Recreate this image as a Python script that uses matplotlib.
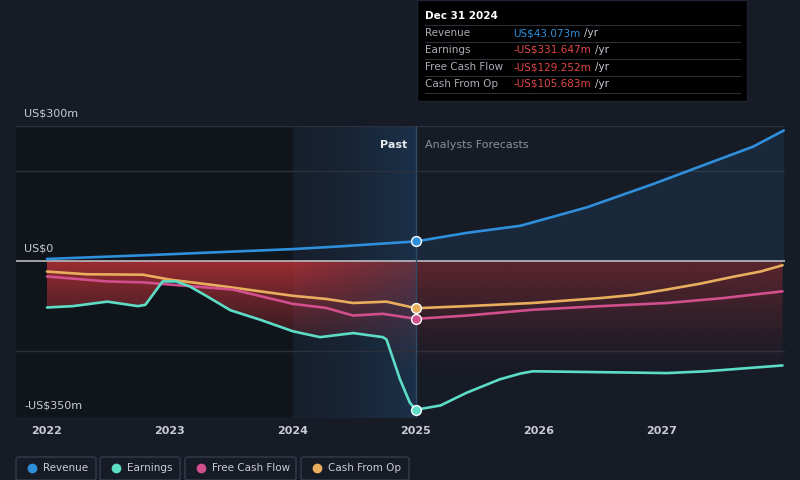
import numpy as np
import matplotlib
matplotlib.use('Agg')
import matplotlib.pyplot as plt
from matplotlib.patches import FancyBboxPatch, Rectangle

BG = '#161b26'
DARK = '#10141b'
GRID = '#2a303c'
TXT = '#c9ccd3'
C_REV = '#2f8fdb'
C_EARN = '#5ddcc6'
C_FCF = '#d04f8c'
C_CFO = '#e8ae5e'

# values in US$ millions, x in fractional years
rev_x = [2022.0, 2022.86, 2024.0, 2024.38, 2025.0, 2025.41, 2025.85, 2026.39, 2026.93,
         2027.31, 2027.74, 2027.99]
rev_y = [4, 13, 26, 32, 43.073, 62, 78, 119, 171,
         210, 254, 290]

earn_x = [2022.0, 2022.21, 2022.49, 2022.74, 2022.80, 2022.94, 2023.05, 2023.16, 2023.30, 2023.49,
          2023.73, 2024.0, 2024.22, 2024.49, 2024.73, 2024.76, 2024.87, 2024.95, 2025.0,
          2025.2, 2025.41, 2025.68, 2025.85, 2025.95, 2026.5, 2027.04, 2027.36, 2027.98]
earn_y = [-104, -101, -91, -101, -98, -46, -46, -57, -79, -110,
          -131, -157, -170, -161, -170, -175, -264, -316, -331.647,
          -322, -294, -264, -251, -246, -248, -250, -246, -233]

fcf_x = [2022.0, 2022.49, 2022.78, 2023.0, 2023.51, 2024.0, 2024.27, 2024.49, 2024.73, 2025.0,
         2025.41, 2025.95, 2026.5, 2027.04, 2027.5, 2027.98]
fcf_y = [-35, -46, -48, -53, -64, -96, -105, -122, -118, -129.252,
         -122, -109, -101, -94, -83, -68]

cfo_x = [2022.0, 2022.32, 2022.78, 2023.0, 2023.41, 2024.0, 2024.27, 2024.49, 2024.76, 2025.0,
         2025.41, 2025.95, 2026.5, 2026.77, 2027.04, 2027.31, 2027.59, 2027.8, 2027.98]
cfo_y = [-24, -30, -31, -42, -56, -78, -85, -94, -91, -105.683,
         -101, -94, -83, -76, -64, -51, -35, -24, -10]

years = [2022, 2023, 2024, 2025, 2026, 2027]
X0, X1 = 2021.748, 2028.0
Y0, Y1 = -350, 300
NOW = 2025.0

fig = plt.figure(figsize=(8, 4.8), dpi=100, facecolor=BG)
ax = fig.add_axes([16 / 800, 1 - 418 / 480, 769 / 800, 292 / 480])
ax.set_facecolor(BG)
ax.set_xlim(X0, X1)
ax.set_ylim(Y0, Y1)
ax.axis('off')

# past background darker, last year highlighted blue
ax.axvspan(X0, 2024.0, color=DARK, zorder=0, lw=0)
grad = np.linspace(0, 1, 200)[None, :] ** 1.5
img = np.zeros((1, 200, 4))
img[..., 0], img[..., 1], img[..., 2] = 0.12, 0.25, 0.38
img[..., 3] = 0.12 + 0.5 * grad
ax.imshow(img, extent=[2024.0, NOW, Y0, Y1], aspect='auto', zorder=0.5, interpolation='bilinear')

# grid lines
for g in [300, 200, -200, -350]:
    ax.axhline(g, color=GRID, lw=1, zorder=1)

# red gradient under the loss lines
ex = np.array(earn_x)
ey = np.array(earn_y)
poly = ax.fill_between(ex, 0, ey, color='none', lw=0)
nx, ny = 300, 200
gx = np.linspace(X0, X1, nx)
gy = np.linspace(0, Y0, ny)
red = np.zeros((ny, nx, 4))
red[..., 0], red[..., 1], red[..., 2] = 0.76, 0.2, 0.22
ay = np.clip(1 - (-gy / 260), 0, 1)[:, None] ** 1.3
axf = np.where(gx < 2024.0, 0.8, np.where(gx < NOW, 0.8 - 0.35 * (gx - 2024.0), 0.42))[None, :]
red[..., 3] = ay * axf
im = ax.imshow(red, extent=[X0, X1, Y0, 0], aspect='auto', origin='upper', zorder=2,
               interpolation='bilinear')
im.set_clip_path(poly.get_paths()[0], transform=ax.transData)

# blue fill under the revenue forecast
rx = np.array(rev_x)
ry = np.array(rev_y)
ax.fill_between(rx[rx >= NOW], 0, ry[rx >= NOW], color=C_REV, alpha=0.12, lw=0, zorder=2)

ax.axhline(0, color='#b9bcc2', lw=1.2, zorder=3)
ax.axvline(NOW, color='#2d4a66', lw=1, zorder=3)

for xs, ys, c in [(rev_x, rev_y, C_REV), (cfo_x, cfo_y, C_CFO),
                  (fcf_x, fcf_y, C_FCF), (earn_x, earn_y, C_EARN)]:
    ax.plot(xs, ys, color=c, lw=1.9, zorder=4, solid_capstyle='round', solid_joinstyle='round')
    ax.scatter([NOW], [ys[xs.index(NOW)]], s=50, color=c, edgecolor='white', lw=1, zorder=5)

ax.text(NOW - 0.07, 258, 'Past', ha='right', va='center', color='#e6e8ec', fontsize=8,
        fontweight='bold', zorder=6)
ax.text(NOW + 0.07, 258, 'Analysts Forecasts', ha='left', va='center', color='#8a8f99',
        fontsize=8, zorder=6)


def px(x, y):
    return x / 800, 1 - y / 480


fig.text(*px(24, 114), 'US$300m', color=TXT, fontsize=8, va='center')
fig.text(*px(24, 248), 'US$0', color=TXT, fontsize=8, va='center')
fig.text(*px(24, 406), '-US$350m', color=TXT, fontsize=8, va='center')

for yr in years:
    xp = 16 + (yr - X0) / (X1 - X0) * 769
    fig.text(*px(xp, 431), str(yr), color=TXT, fontsize=8, ha='center', va='center',
             fontweight='bold')

# tooltip
fig.patches.append(Rectangle(px(417, 101), 330 / 800, 101 / 480, transform=fig.transFigure,
                             facecolor='#000000', edgecolor='#1c2230', lw=1))
fig.text(*px(425, 16), 'Dec 31 2024', color='white', fontsize=7.5, fontweight='bold', va='center')
rows = [('Revenue', 'US$43.073m', '#2f8fdb'),
        ('Earnings', '-US$331.647m', '#e04848'),
        ('Free Cash Flow', '-US$129.252m', '#e04848'),
        ('Cash From Op', '-US$105.683m', '#e04848')]
for i, (lab, val, col) in enumerate(rows):
    yy = 33 + i * 17
    fig.add_artist(plt.Line2D([425 / 800, 740 / 800], [1 - (yy - 8.5) / 480] * 2,
                              color='#2b2f38', lw=0.8))
    fig.text(*px(425, yy), lab, color='#a9adb5', fontsize=7.5, va='center')
    t = fig.text(*px(513, yy), val, color=col, fontsize=7.5, va='center')
    fig.add_artist(plt.Annotation('/yr', xy=(1, 0.5), xycoords=t, xytext=(3, 0),
                                  textcoords='offset points', va='center', color='#c9ccd3',
                                  fontsize=7.5))
fig.add_artist(plt.Line2D([425 / 800, 740 / 800], [1 - 92.5 / 480] * 2, color='#2b2f38', lw=0.8))

# legend boxes
legend = [('Revenue', C_REV, 16, 96), ('Earnings', C_EARN, 100, 180),
          ('Free Cash Flow', C_FCF, 185, 296), ('Cash From Op', C_CFO, 301, 409)]
for lab, col, xa, xb in legend:
    fig.patches.append(FancyBboxPatch(px(xa, 480), (xb - xa) / 800, 23 / 480,
                                      boxstyle='round,pad=0,rounding_size=0.004',
                                      transform=fig.transFigure, facecolor='none',
                                      edgecolor='#363c4a', lw=1))
    fig.add_artist(plt.Line2D([(xa + 16) / 800], [1 - 468 / 480], marker='o', markersize=6,
                              color=col, lw=0))
    fig.text(*px(xa + 27, 468), lab, color=TXT, fontsize=7.5, va='center')

fig.savefig('out.png', dpi=100, facecolor=BG)
